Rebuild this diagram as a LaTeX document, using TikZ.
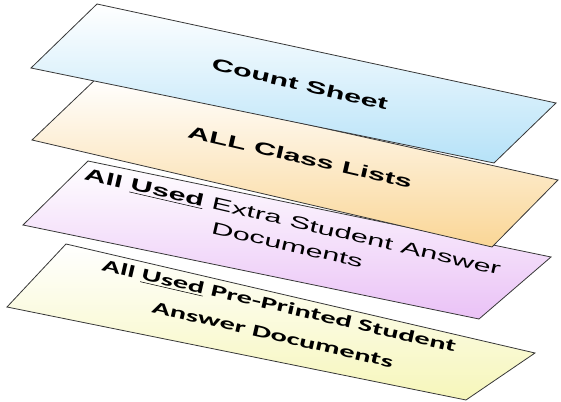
\documentclass[tikz,border=0pt]{standalone}
\usepackage{fontspec}
\setmainfont{Liberation Sans}
\newfontfamily\carlito{Carlito}

\definecolor{sheetblue}{RGB}{182,226,248}
\definecolor{sheetpeach}{RGB}{250,214,150}
\definecolor{sheetpink}{RGB}{234,194,246}
\definecolor{sheetyellow}{RGB}{246,246,186}

\tikzset{every picture/.style={line width=0.75pt}}
\tikzset{
  sheet/.style={draw={rgb, 255:red, 55; green, 55; blue, 55}, line width=0.6pt,
    bottom color=#1, top color=white},
  sheetlabel/.style={rotate=-13, xscale=1.8, align=center, inner sep=0pt,
    font=\fontsize{12.75}{18}\selectfont},
}

\begin{document}
\begin{tikzpicture}[x=0.75pt,y=0.75pt,yscale=-1,xscale=1]
\useasboundingbox (0,0) rectangle (561,402);

%Shape: Parallelogram [id:dp4409] 
\draw [sheet=sheetyellow]  (66,244) -- (535,353) -- (466,400) -- (7,307) -- cycle ;
%Shape: Parallelogram [id:dp3172] 
\draw [sheet=sheetpink]  (88,161) -- (551,257) -- (479,319) -- (23,225) -- cycle ;
%Shape: Parallelogram [id:dp8851] 
\draw [sheet=sheetpeach]  (97,78) -- (558,180) -- (492,247) -- (32,140) -- cycle ;
%Shape: Parallelogram [id:dp1206] 
\draw [sheet=sheetblue]  (97,4) -- (556,103) -- (494,163) -- (31,68) -- cycle ;

\node [sheetlabel] (count) at (300,84) {\bfseries Count Sheet} ;
\node [sheetlabel] (classlists) at (300,157) {\bfseries ALL Class Lists} ;
\node [sheetlabel] (extra) at (290,233) {{\bfseries All \underline{Used}} Extra Student Answer\\Documents} ;
\node [sheetlabel, font=\fontsize{12.75}{22}\selectfont\carlito\bfseries] (preprinted) at (276,320) {All \underline{Used} Pre-Printed Student\\Answer Documents} ;
\end{tikzpicture}
\end{document}
